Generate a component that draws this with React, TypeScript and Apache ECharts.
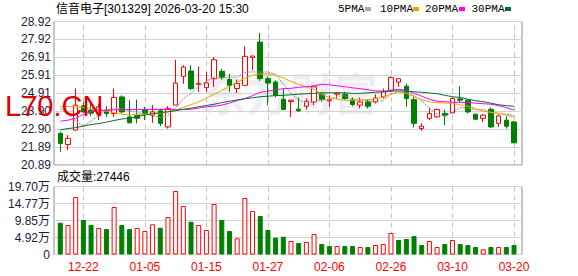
import React, { useEffect, useRef } from 'react';
import * as echarts from 'echarts';

const titleText = '信音电子[301329] 2026-03-20 15:30';
const volumeLabel = '成交量';
const latestVolume = 27446;

const dates = [
  '12-17', '12-18', '12-19', '12-22', '12-23', '12-24', '12-25', '12-26', '12-29', '12-30',
  '12-31', '01-05', '01-06', '01-07', '01-08', '01-09', '01-12', '01-13', '01-14', '01-15',
  '01-16', '01-19', '01-20', '01-21', '01-22', '01-23', '01-26', '01-27', '01-28', '01-29',
  '01-30', '02-02', '02-03', '02-04', '02-05', '02-06', '02-09', '02-10', '02-11', '02-12',
  '02-13', '02-24', '02-25', '02-26', '02-27', '03-02', '03-03', '03-04', '03-05', '03-06',
  '03-09', '03-10', '03-11', '03-12', '03-13', '03-16', '03-17', '03-18', '03-19', '03-20',
];

// [open, close, low, high]
const candles = [
  [22.66, 22.10, 21.63, 22.75], [22.04, 22.38, 21.73, 22.56], [22.84, 24.24, 22.81, 25.17],
  [24.20, 23.86, 23.79, 24.40], [23.96, 23.79, 23.62, 24.29], [23.77, 24.14, 23.40, 24.33],
  [23.96, 23.77, 23.58, 24.18], [23.77, 24.67, 23.58, 25.17], [24.70, 23.86, 23.77, 24.79],
  [23.58, 23.25, 23.22, 24.52], [23.68, 23.50, 23.22, 24.55], [24.00, 23.77, 23.40, 24.14],
  [23.68, 23.86, 23.25, 24.24], [23.92, 23.22, 23.06, 24.05], [23.02, 24.05, 22.93, 24.18],
  [24.24, 25.48, 24.24, 26.78], [25.85, 26.37, 25.44, 26.47], [26.15, 25.17, 25.07, 26.47],
  [25.41, 25.46, 24.98, 26.40], [25.22, 25.48, 24.98, 26.09], [25.72, 26.78, 25.26, 26.93],
  [26.13, 25.81, 25.67, 26.28], [25.67, 25.35, 24.98, 26.00], [25.17, 25.45, 24.92, 25.67],
  [25.35, 26.97, 25.30, 27.53], [26.91, 26.99, 26.19, 26.99], [27.77, 25.72, 25.59, 28.27],
  [25.72, 25.48, 24.24, 25.85], [25.53, 24.79, 24.67, 25.63], [24.57, 23.99, 23.96, 25.17],
  [24.44, 24.52, 23.58, 24.54], [24.01, 23.92, 23.86, 24.67], [24.18, 24.46, 24.00, 24.61],
  [24.42, 25.26, 24.24, 25.35], [24.85, 24.57, 24.42, 24.98], [24.48, 24.54, 24.14, 24.79],
  [24.85, 24.92, 24.61, 24.98], [24.85, 24.61, 24.55, 24.98], [24.52, 24.28, 24.18, 24.67],
  [24.24, 24.42, 24.05, 24.67], [24.42, 24.18, 24.05, 24.55], [24.42, 24.64, 24.33, 24.85],
  [24.70, 24.98, 24.61, 25.17], [25.07, 25.78, 24.98, 25.85], [25.53, 25.72, 25.26, 25.72],
  [25.30, 24.61, 24.14, 25.45], [24.55, 23.22, 22.99, 24.74], [22.93, 23.06, 22.80, 23.22],
  [23.50, 23.77, 23.40, 24.11], [23.58, 24.00, 23.55, 24.05], [23.77, 23.68, 23.12, 24.00],
  [23.81, 24.61, 23.77, 24.67], [24.59, 24.52, 24.36, 25.30], [24.52, 23.86, 23.77, 24.55],
  [23.73, 23.45, 23.40, 23.77], [23.50, 23.68, 23.30, 23.73], [24.01, 23.02, 22.96, 24.11],
  [23.22, 23.64, 23.02, 23.72], [23.40, 23.06, 22.93, 23.62], [23.30, 22.13, 22.13, 23.36],
];

const volumes = [
  92000, 85500, 166600, 100000, 85500, 76800, 73900, 137600, 85500, 73900,
  76800, 68100, 87500, 77600, 108600, 184000, 140500, 95000, 85500, 71000,
  146300, 100000, 68100, 46900, 163700, 126000, 111500, 71000, 48700, 51600,
  39100, 33300, 36200, 59400, 30400, 24600, 24600, 24600, 24600, 21700,
  21700, 27500, 30400, 62300, 42000, 44900, 53600, 27500, 39100, 21700,
  30400, 42000, 30400, 27500, 21700, 15100, 21700, 21700, 21700, 27446,
];

const ma5 = [
  24.07, 23.73, 23.34, 23.07, 23.34, 23.68, 23.96, 24.04, 24.04, 23.93,
  23.82, 23.79, 23.65, 23.54, 23.68, 24.07, 24.60, 24.90, 25.30, 25.57,
  25.83, 25.74, 25.80, 25.80, 26.08, 26.10, 26.09, 26.10, 25.96, 25.41,
  24.90, 24.54, 24.35, 24.43, 24.54, 24.55, 24.74, 24.77, 24.58, 24.55,
  24.48, 24.43, 24.50, 24.85, 24.99, 24.96, 24.77, 24.48, 24.07, 23.73,
  23.60, 23.85, 24.10, 24.07, 23.99, 23.99, 23.85, 23.77, 23.73, 23.68,
];
const ma10 = [
  24.18, 24.16, 24.14, 24.11, 24.05, 23.99, 23.90, 23.82, 23.73, 23.68,
  23.71, 23.73, 23.76, 23.79, 23.85, 23.93, 24.12, 24.26, 24.43, 24.63,
  24.85, 25.07, 25.27, 25.52, 25.74, 25.91, 25.99, 25.99, 25.91, 25.77,
  25.57, 25.41, 25.26, 25.13, 24.85, 24.65, 24.57, 24.52, 24.52, 24.52,
  24.54, 24.60, 24.68, 24.85, 24.99, 24.90, 24.71, 24.54, 24.43, 24.38,
  24.36, 24.35, 24.26, 24.18, 24.04, 23.90, 23.83, 23.79, 23.68, 23.57,
];
const ma20 = [
  23.34, 23.40, 23.50, 23.73, 23.87, 23.93, 23.96, 23.97, 23.99, 23.99,
  23.99, 24.00, 24.00, 24.00, 24.00, 23.99, 23.99, 24.01, 24.07, 24.15,
  24.18, 24.24, 24.35, 24.49, 24.61, 24.77, 24.96, 25.02, 25.10, 25.16,
  25.18, 25.24, 25.27, 25.32, 25.41, 25.38, 25.32, 25.27, 25.21, 25.16,
  25.10, 25.04, 25.02, 25.07, 25.13, 25.07, 24.90, 24.74, 24.57, 24.46,
  24.43, 24.40, 24.40, 24.38, 24.35, 24.32, 24.29, 24.21, 24.10, 23.96,
];
const ma30 = [
  22.86, 22.93, 22.98, 23.07, 23.15, 23.21, 23.29, 23.38, 23.46, 23.51,
  23.60, 23.68, 23.76, 23.82, 23.87, 23.93, 24.01, 24.07, 24.15, 24.22,
  24.29, 24.38, 24.46, 24.53, 24.60, 24.65, 24.71, 24.74, 24.77, 24.79,
  24.82, 24.85, 24.88, 24.90, 24.93, 24.93, 24.93, 24.93, 24.90, 24.90,
  24.93, 24.96, 24.99, 25.02, 25.04, 25.02, 24.99, 24.96, 24.92, 24.88,
  24.79, 24.71, 24.67, 24.57, 24.49, 24.43, 24.35, 24.26, 24.21, 24.18,
];

const priceTicks = ['20.89', '21.89', '22.90', '23.90', '24.91', '25.91', '26.91', '27.92', '28.92'];
const volTicks = ['0', '4.92万', '9.85万', '14.77万', '19.70万'];
const priceMin = 20.89;
const priceMax = 28.92;
const volMax = 197000;

const legendNames = ['5PMA', '10PMA', '20PMA', '30PMA'];
const maColors = ['#8c8c8c', '#f0a000', '#ff00ff', '#006f35'];
const legendSwatch = ['#aaaaaa', '#f0a000', '#ff00ff', '#007030'];

const UP = '#ff0000';
const DOWN = '#008000';
const FONT = '"Liberation Sans", Arial, "Noto Sans CJK SC", sans-serif';

const labelStep = 8;
const labelOffset = 3;
const showLabel = (i: number) => i % labelStep === labelOffset;

export default function App() {
  const ref = useRef<HTMLDivElement>(null);

  useEffect(() => {
    if (!ref.current) return;
    const chart = echarts.init(ref.current, undefined, { renderer: 'svg' });

    const volData = volumes.map((v, i) => {
      const c = candles[i];
      const up = i === 0 ? c[1] >= c[0] : c[1] >= candles[i - 1][1];
      return {
        value: v,
        itemStyle: up
          ? { color: '#ffffff', borderColor: UP, borderWidth: 1 }
          : { color: DOWN, borderColor: DOWN, borderWidth: 1 },
      };
    });

    const vLines = dates.filter((_, i) => showLabel(i)).map((d) => ({ xAxis: d }));
    const vLineStyle = { color: '#c4c4c4', type: [5, 4], width: 1 };

    const L0 = 54, W0 = 468;
    const L1 = 56.45, W1 = 461.4;
    const T0 = 21.5, H0 = 143.5;
    const T1 = 186.5, H1 = 68;

    const legendX = [338, 380, 425, 471.5];
    const swatchX = [365, 413, 459, 505];

    const graphic: any[] = [
      {
        type: 'text', x: 290, y: 92, z: 0, silent: true,
        style: { text: '东方财富', fill: 'rgba(205,205,220,0.35)', font: 'bold 44px "Noto Sans CJK SC", sans-serif', textAlign: 'center', textVerticalAlign: 'middle', align: 'center', verticalAlign: 'middle' },
      },
      {
        type: 'text', x: 56, y: 9, z: 10,
        style: { text: titleText, fill: '#000', font: '12px ' + FONT, textVerticalAlign: 'middle', verticalAlign: 'middle' },
      },
      {
        type: 'text', x: 57, y: 177, z: 10,
        style: { text: volumeLabel + ':' + latestVolume, fill: '#000', font: '12px ' + FONT, textVerticalAlign: 'middle', verticalAlign: 'middle' },
      },
      {
        type: 'text', x: 5, y: 106, z: 100,
        style: { text: 'L70.CN', fill: '#e00000', font: '29px "Liberation Sans", Arial, sans-serif', textVerticalAlign: 'middle', verticalAlign: 'middle' },
      },
    ];
    legendNames.forEach((n, i) => {
      graphic.push({
        type: 'text', x: legendX[i], y: 9, z: 10,
        style: { text: n, fill: '#000', font: '11px "Liberation Mono", monospace', textVerticalAlign: 'middle', verticalAlign: 'middle' },
      });
      graphic.push({
        type: 'rect', z: 10,
        shape: { x: swatchX[i], y: 7, width: 6, height: 4 },
        style: { fill: legendSwatch[i] },
      });
    });

    const axisText = { color: '#1c1c3a', fontSize: 12, fontFamily: FONT };

    chart.setOption({
      animation: false,
      backgroundColor: '#ffffff',
      graphic,
      grid: [
        { left: L0, top: T0, width: W0, height: H0, show: true, borderColor: '#8e8e8e', borderWidth: 1, backgroundColor: 'transparent' },
        { left: L1, top: T0, width: W1, height: H0 },
        { left: L0, top: T1, width: W0, height: H1, show: true, borderColor: '#8e8e8e', borderWidth: 1, backgroundColor: 'transparent' },
        { left: L1, top: T1, width: W1, height: H1 },
      ],
      xAxis: [
        { gridIndex: 0, type: 'value', min: 0, max: 1, show: false },
        { gridIndex: 1, type: 'category', data: dates, boundaryGap: true, axisLine: { show: false }, axisTick: { show: false }, axisLabel: { show: false }, splitLine: { show: false } },
        { gridIndex: 2, type: 'value', min: 0, max: 1, show: false },
        {
          gridIndex: 3, type: 'category', data: dates, boundaryGap: true,
          axisLine: { show: false }, axisTick: { show: false }, splitLine: { show: false },
          axisLabel: { show: true, interval: (i: number) => showLabel(i), color: '#ff0000', fontSize: 12, fontFamily: FONT, margin: 6 },
        },
      ],
      yAxis: [
        {
          gridIndex: 0, type: 'value', min: 0, max: priceTicks.length - 1, interval: 1,
          axisLine: { show: false }, axisTick: { show: false },
          axisLabel: { ...axisText, margin: 3, formatter: (v: number) => priceTicks[Math.round(v)] },
          splitLine: { show: true, lineStyle: { color: '#d2d2d2', width: 1 } },
        },
        { gridIndex: 1, type: 'value', min: priceMin, max: priceMax, show: false, splitLine: { show: false } },
        {
          gridIndex: 2, type: 'value', min: 0, max: volTicks.length - 1, interval: 1,
          axisLine: { show: false }, axisTick: { show: false },
          axisLabel: { ...axisText, margin: 4, formatter: (v: number) => volTicks[Math.round(v)] },
          splitLine: { show: true, lineStyle: { color: '#d2d2d2', width: 1 } },
        },
        { gridIndex: 3, type: 'value', min: 0, max: volMax, show: false, splitLine: { show: false } },
      ],
      series: [
        {
          type: 'candlestick', xAxisIndex: 1, yAxisIndex: 1, z: 2,
          data: candles, barWidth: 5,
          itemStyle: { color: '#ffffff', color0: DOWN, borderColor: UP, borderColor0: DOWN, borderWidth: 1 },
          markLine: { silent: true, symbol: 'none', label: { show: false }, lineStyle: vLineStyle, data: vLines, z: 1 },
        },
        ...[ma5, ma10, ma20, ma30].map((d, i) => ({
          type: 'line', name: legendNames[i], xAxisIndex: 1, yAxisIndex: 1, z: 3,
          data: d, showSymbol: false, symbol: 'none', smooth: false,
          lineStyle: { color: maColors[i], width: 1, type: i === 0 ? [2, 1] : 'solid' },
        })),
        {
          type: 'bar', xAxisIndex: 3, yAxisIndex: 3, z: 2,
          data: volData, barWidth: 5,
          markLine: { silent: true, symbol: 'none', label: { show: false }, lineStyle: vLineStyle, data: vLines, z: 1 },
        },
      ],
    });

    return () => chart.dispose();
  }, []);

  return (
    <div
      ref={ref}
      style={{ position: 'absolute', left: 0, top: 0, width: 578, height: 276, background: '#fff' }}
    />
  );
}
